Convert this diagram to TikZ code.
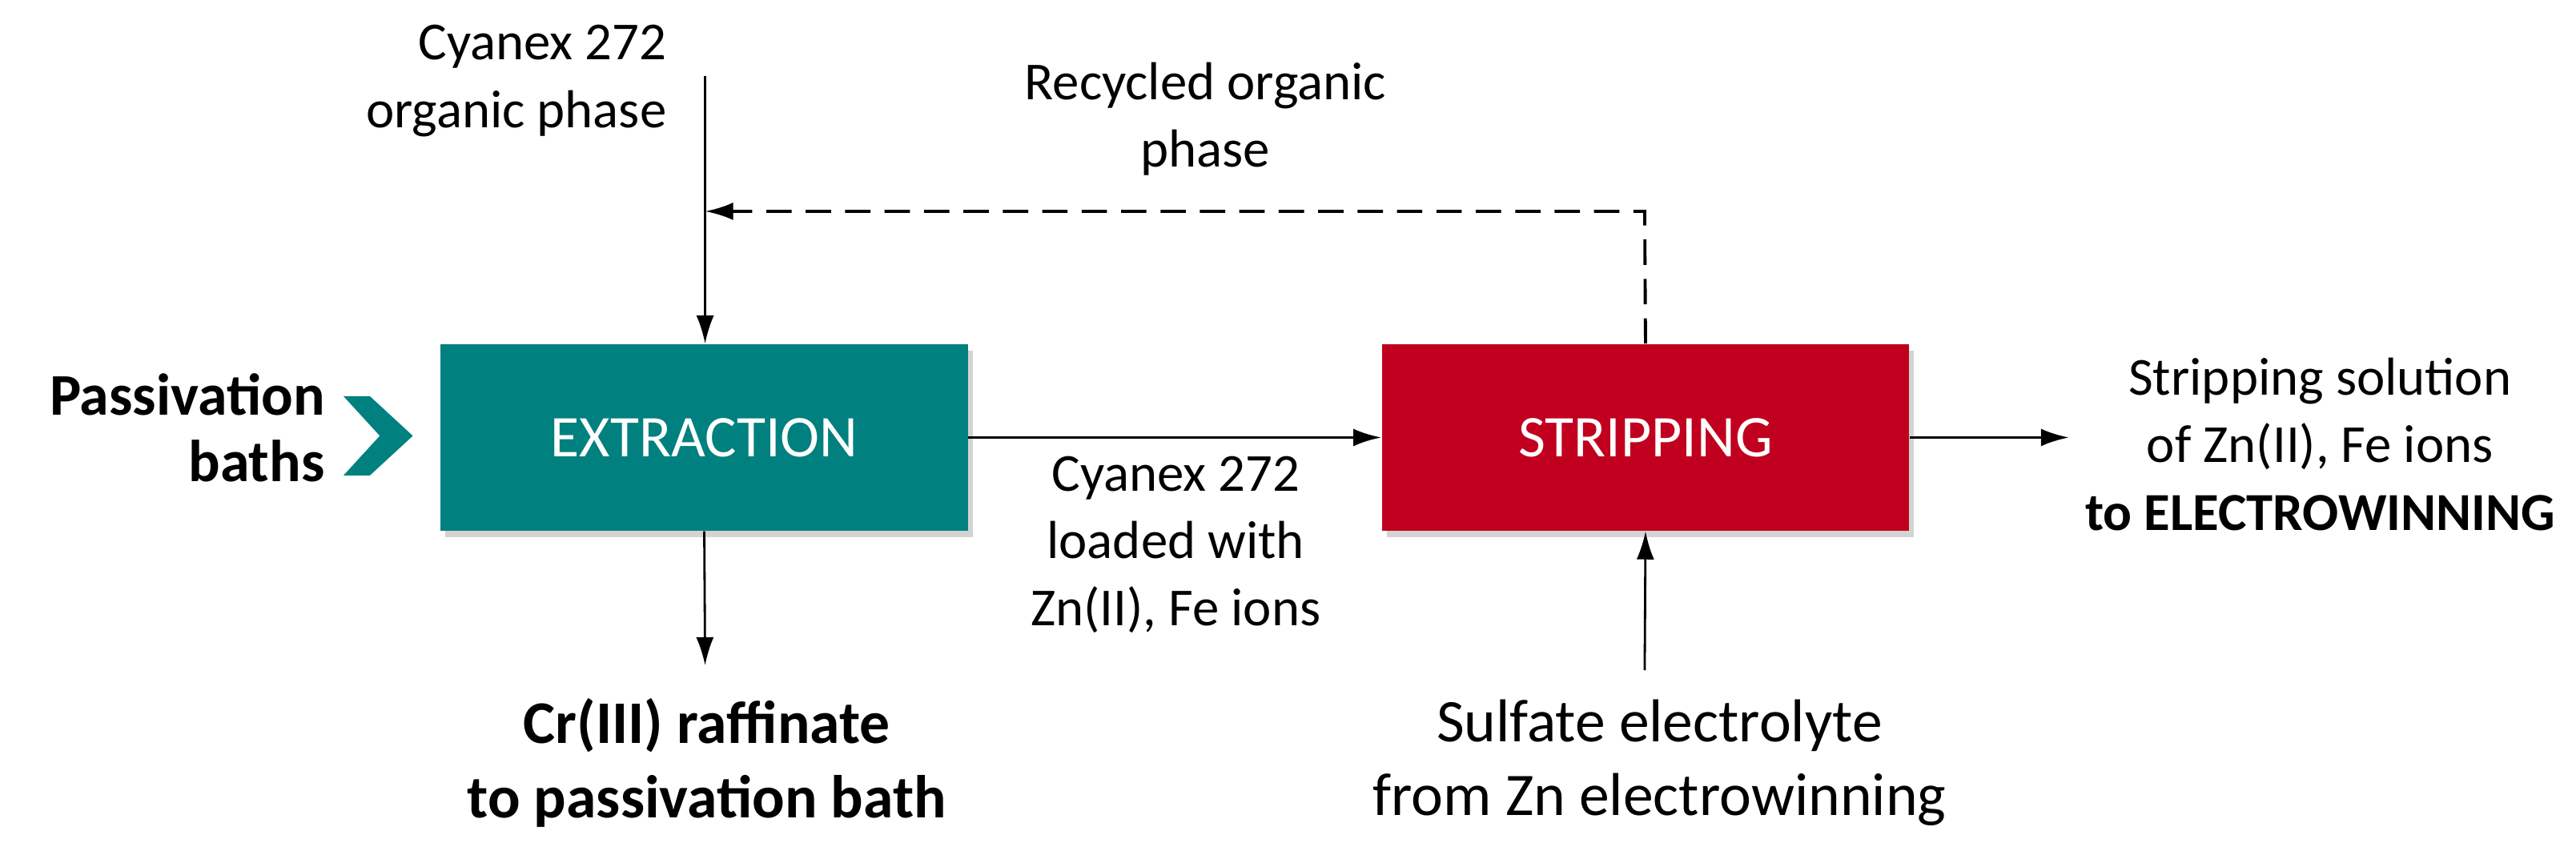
\documentclass[tikz,border=0pt]{standalone}
\usepackage{fontspec}
\setmainfont{Carlito}
\usetikzlibrary{arrows.meta,shadows}
\definecolor{teal1}{HTML}{00807F}
\definecolor{red1}{HTML}{C0001E}
\begin{document}
\begin{tikzpicture}[x=0.02062cm,y=-0.02062cm,
  box/.style={draw=none,minimum width=6.58cm,minimum height=2.33cm,text=white,font=\fontsize{21}{25}\selectfont,drop shadow={shadow xshift=0.06cm,shadow yshift=-0.08cm,opacity=0.35}},
  lab/.style={align=center,font=\fontsize{19}{24}\selectfont,inner sep=0},
  big/.style={align=center,inner sep=0},
  arr/.style={line width=1.1pt,-{Latex[length=0.35cm,width=0.22cm]}}]
\useasboundingbox (0,0) rectangle (1560,512.6);
\node[box,fill=teal1] (ext) at (426.5,265) {EXTRACTION};
\node[box,fill=red1] (str) at (996.5,265) {STRIPPING};
\fill[teal1] (208,240) -- (224,240) -- (250,264) -- (224,288) -- (208,288) -- (230,264) -- cycle;
\node[big,align=right,anchor=east,font=\fontsize{21}{23.7}\selectfont\bfseries] (pb) at (197,259) {Passivation\\baths};
\node[lab,align=right,anchor=east] (cy) at (404,49) {Cyanex 272\\organic phase};
\coordinate (cytop) at (427,46);
\draw[arr,line width=0.8pt] (cytop) -- (ext.north -| cytop);
\coordinate (dc) at (996,128);
\coordinate (dl) at (427,128);
\draw[line width=1.1pt,dash pattern=on 9pt off 5pt,-{Latex[length=0.35cm,width=0.22cm]}] (str.north) -- (dc) -- (dl);
\node[lab] (rec) at (730,72) {Recycled organic\\phase};
\draw[arr] (ext.east) -- (str.west);
\node[lab] (load) at (712,330) {Cyanex 272\\loaded with\\Zn(II), Fe ions};
\coordinate (sr) at (1253,265);
\draw[arr] (str.east) -- (sr);
\node[lab] (sol) at (1405,269) {Stripping solution\\of Zn(II), Fe ions\\\textbf{to ELECTROWINNING}};
\coordinate (eb) at (427,403);
\draw[arr,line width=0.8pt] (ext.south) -- (eb);
\node[big,font=\fontsize{21.5}{26.3}\selectfont\bfseries] (cr) at (428,462) {Cr(III) raffinate\\to passivation bath};
\coordinate (sb) at (996,406);
\draw[arr,line width=0.8pt] (sb) -- (str.south);
\node[big,font=\fontsize{21.5}{26.3}\selectfont] (sul) at (1005,462) {Sulfate electrolyte\\from Zn electrowinning};
\end{tikzpicture}
\end{document}
